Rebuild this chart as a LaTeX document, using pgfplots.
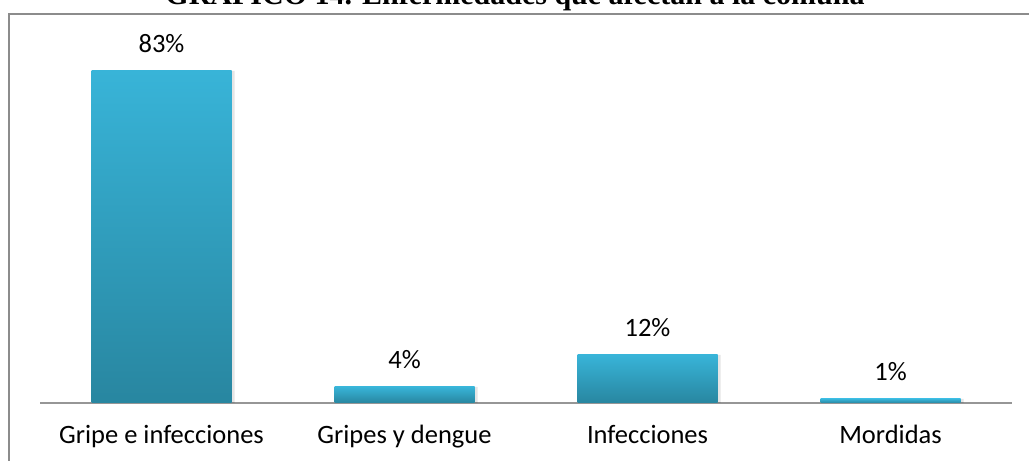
\documentclass[border=0pt]{standalone}
\usepackage{pgfplots}
\pgfplotsset{compat=1.18}
\usepackage{fontspec}
\setmainfont{Carlito}
\newfontfamily\titlefont{Liberation Serif}
\definecolor{barTop}{RGB}{56,180,216}
\definecolor{barBot}{RGB}{40,134,160}
\definecolor{frameGray}{RGB}{140,140,140}
\definecolor{axisGray}{RGB}{150,150,150}
\begin{document}
\begin{tikzpicture}[x=1bp,y=1bp]
\begin{axis}[
  at={(0,0)}, anchor=south west,
  scale only axis, width=972bp, height=389bp,
  xmin=-0.5, xmax=3.5, ymin=0, ymax=97.25,
  axis x line=bottom, axis y line=none,
  x axis line style={-, draw=axisGray, line width=1.5bp},
  xtick={0,1,2,3},
  xticklabels={Gripe e infecciones, Gripes y dengue, Infecciones, Mordidas},
  major tick length=0pt,
  xticklabel style={font=\fontsize{26.5bp}{30bp}\selectfont, anchor=base, yshift=-41bp},
  /pgf/number format/assume math mode=true,
  clip=false,
  ybar, bar width=140bp, bar shift=0pt,
  barstyle/.style={draw=none, top color=barTop, bottom color=barBot,
    nodes near coords={\pgfmathprintnumber{\pgfplotspointmeta}\%},
    every node near coord/.append style={font=\fontsize{26.5bp}{30bp}\selectfont, anchor=base, yshift=18bp, text=black}},
  shadowstyle/.style={draw=none, fill=black, fill opacity=0.10, bar shift=3bp, forget plot},
]
\addplot[shadowstyle] coordinates {(0,83) (1,4) (2,12) (3,1)};
\addplot[barstyle] coordinates {(0,83)};
\addplot[barstyle] coordinates {(1,4)};
\addplot[barstyle] coordinates {(2,12)};
\addplot[barstyle] coordinates {(3,1)};
\end{axis}
\node[font=\titlefont\bfseries\fontsize{30bp}{36bp}\selectfont, anchor=base] at (475,398.5) {GRÁFICO 14. Enfermedades que afectan a la comuna};
\draw[frameGray, line width=1.5bp] (-31,-80) -- (-31,389) -- (1000,389);
\pgfresetboundingbox
\useasboundingbox (-40,-58) rectangle (989,403);
\end{tikzpicture}
\end{document}
